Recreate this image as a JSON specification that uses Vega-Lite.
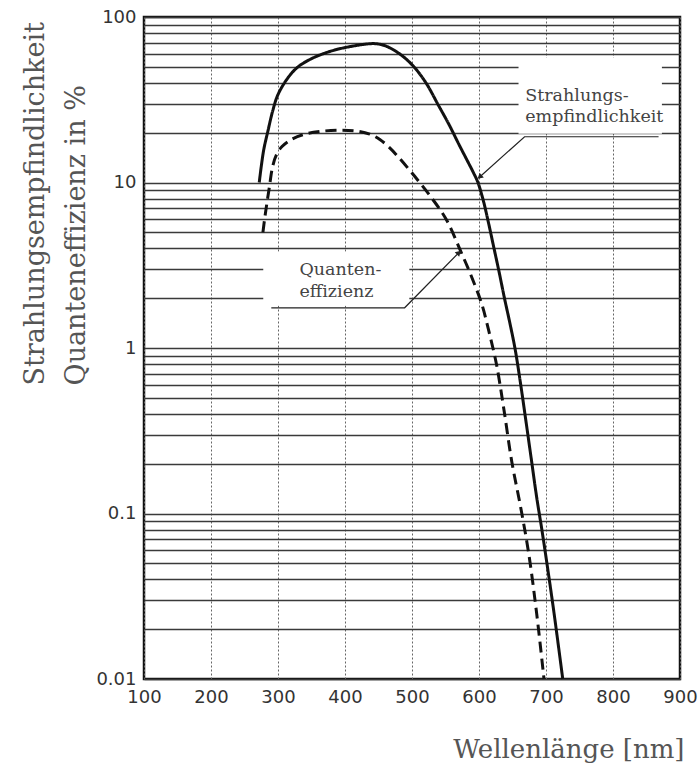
{
  "$schema": "https://vega.github.io/schema/vega-lite/v6.json",
  "width": 536,
  "height": 662,
  "autosize": "none",
  "padding": {"left": 144, "top": 17, "right": 18, "bottom": 85},
  "background": "white",
  "config": {
    "view": {"stroke": "#111", "strokeWidth": 2.5},
    "axis": {"titleFontWeight": "normal"}
  },
  "datasets": {
    "curves": [
      {"series": "Strahlungsempfindlichkeit", "wl": 272, "val": 10},
      {"series": "Strahlungsempfindlichkeit", "wl": 275, "val": 12.5},
      {"series": "Strahlungsempfindlichkeit", "wl": 279, "val": 16},
      {"series": "Strahlungsempfindlichkeit", "wl": 285, "val": 20.5},
      {"series": "Strahlungsempfindlichkeit", "wl": 292, "val": 27},
      {"series": "Strahlungsempfindlichkeit", "wl": 300, "val": 34},
      {"series": "Strahlungsempfindlichkeit", "wl": 315, "val": 43},
      {"series": "Strahlungsempfindlichkeit", "wl": 330, "val": 50},
      {"series": "Strahlungsempfindlichkeit", "wl": 350, "val": 56},
      {"series": "Strahlungsempfindlichkeit", "wl": 370, "val": 60.5},
      {"series": "Strahlungsempfindlichkeit", "wl": 390, "val": 64},
      {"series": "Strahlungsempfindlichkeit", "wl": 410, "val": 66.5},
      {"series": "Strahlungsempfindlichkeit", "wl": 430, "val": 68.5},
      {"series": "Strahlungsempfindlichkeit", "wl": 445, "val": 69},
      {"series": "Strahlungsempfindlichkeit", "wl": 460, "val": 67},
      {"series": "Strahlungsempfindlichkeit", "wl": 480, "val": 60.5},
      {"series": "Strahlungsempfindlichkeit", "wl": 500, "val": 51.5},
      {"series": "Strahlungsempfindlichkeit", "wl": 520, "val": 40.5},
      {"series": "Strahlungsempfindlichkeit", "wl": 540, "val": 29},
      {"series": "Strahlungsempfindlichkeit", "wl": 555, "val": 22.5},
      {"series": "Strahlungsempfindlichkeit", "wl": 570, "val": 17},
      {"series": "Strahlungsempfindlichkeit", "wl": 584, "val": 13.2},
      {"series": "Strahlungsempfindlichkeit", "wl": 592, "val": 11.4},
      {"series": "Strahlungsempfindlichkeit", "wl": 598, "val": 10.1},
      {"series": "Strahlungsempfindlichkeit", "wl": 606, "val": 7.9},
      {"series": "Strahlungsempfindlichkeit", "wl": 614, "val": 5.75},
      {"series": "Strahlungsempfindlichkeit", "wl": 622, "val": 4.07},
      {"series": "Strahlungsempfindlichkeit", "wl": 630, "val": 2.88},
      {"series": "Strahlungsempfindlichkeit", "wl": 638, "val": 2.0},
      {"series": "Strahlungsempfindlichkeit", "wl": 646, "val": 1.42},
      {"series": "Strahlungsempfindlichkeit", "wl": 654, "val": 0.98},
      {"series": "Strahlungsempfindlichkeit", "wl": 662, "val": 0.61},
      {"series": "Strahlungsempfindlichkeit", "wl": 670, "val": 0.363},
      {"series": "Strahlungsempfindlichkeit", "wl": 678, "val": 0.214},
      {"series": "Strahlungsempfindlichkeit", "wl": 686, "val": 0.126},
      {"series": "Strahlungsempfindlichkeit", "wl": 694, "val": 0.079},
      {"series": "Strahlungsempfindlichkeit", "wl": 702, "val": 0.048},
      {"series": "Strahlungsempfindlichkeit", "wl": 712, "val": 0.025},
      {"series": "Strahlungsempfindlichkeit", "wl": 725, "val": 0.01},
      {"series": "Quanteneffizienz", "wl": 277.5, "val": 5.0},
      {"series": "Quanteneffizienz", "wl": 280, "val": 6},
      {"series": "Quanteneffizienz", "wl": 283, "val": 7.3},
      {"series": "Quanteneffizienz", "wl": 287, "val": 9.3},
      {"series": "Quanteneffizienz", "wl": 292, "val": 12.5},
      {"series": "Quanteneffizienz", "wl": 298, "val": 14.8},
      {"series": "Quanteneffizienz", "wl": 306, "val": 16.5},
      {"series": "Quanteneffizienz", "wl": 320, "val": 18.2},
      {"series": "Quanteneffizienz", "wl": 340, "val": 19.6},
      {"series": "Quanteneffizienz", "wl": 365, "val": 20.4},
      {"series": "Quanteneffizienz", "wl": 395, "val": 20.7},
      {"series": "Quanteneffizienz", "wl": 420, "val": 20.4},
      {"series": "Quanteneffizienz", "wl": 437, "val": 19.6},
      {"series": "Quanteneffizienz", "wl": 452, "val": 18.2},
      {"series": "Quanteneffizienz", "wl": 466, "val": 16.3},
      {"series": "Quanteneffizienz", "wl": 480, "val": 14.2},
      {"series": "Quanteneffizienz", "wl": 504, "val": 10.9},
      {"series": "Quanteneffizienz", "wl": 529, "val": 8.1},
      {"series": "Quanteneffizienz", "wl": 552, "val": 5.9},
      {"series": "Quanteneffizienz", "wl": 572, "val": 3.9},
      {"series": "Quanteneffizienz", "wl": 588, "val": 2.75},
      {"series": "Quanteneffizienz", "wl": 604, "val": 1.85},
      {"series": "Quanteneffizienz", "wl": 615, "val": 1.25},
      {"series": "Quanteneffizienz", "wl": 626, "val": 0.8},
      {"series": "Quanteneffizienz", "wl": 637, "val": 0.43},
      {"series": "Quanteneffizienz", "wl": 649, "val": 0.205},
      {"series": "Quanteneffizienz", "wl": 662, "val": 0.11},
      {"series": "Quanteneffizienz", "wl": 674, "val": 0.058},
      {"series": "Quanteneffizienz", "wl": 686, "val": 0.025},
      {"series": "Quanteneffizienz", "wl": 697, "val": 0.01}
    ],
    "boxes": [
      {"box": "S", "x1": 659, "x2": 873, "y1": 19.7, "y2": 57},
      {"box": "Q", "x1": 278, "x2": 496, "y1": 1.8, "y2": 3.82}
    ],
    "leaders": [
      {"id": "S", "ord": 1, "wl": 868, "val": 18.9},
      {"id": "S", "ord": 2, "wl": 668, "val": 18.9},
      {"id": "S", "ord": 3, "wl": 601, "val": 10.8},
      {"id": "Q", "ord": 1, "wl": 290, "val": 1.75},
      {"id": "Q", "ord": 2, "wl": 489, "val": 1.75},
      {"id": "Q", "ord": 3, "wl": 570, "val": 3.77}
    ],
    "labels": [
      {"wl": 669, "val": 31.1, "text": "Strahlungs-"},
      {"wl": 669, "val": 23.3, "text": "empfindlichkeit"},
      {"wl": 332, "val": 2.78, "text": "Quanten-"},
      {"wl": 332, "val": 2.02, "text": "effizienz"}
    ]
  },
  "layer": [
    {
      "data": {"name": "boxes"},
      "mark": {"type": "rect", "fill": "white", "stroke": null},
      "encoding": {
        "x": {"field": "x1", "type": "quantitative", "scale": {"domain": [100, 900], "nice": false, "zero": false},
          "axis": {
            "title": "Wellenlänge [nm]",
            "values": [100, 200, 300, 400, 500, 600, 700, 800, 900],
            "grid": true, "gridColor": "#666", "gridDash": [2, 2], "gridWidth": 1,
            "ticks": false, "domain": false,
            "labelFont": "DejaVu Sans", "labelFontSize": 18, "labelColor": "#333",
            "labelPadding": 9, "labelFlush": false, "labelOverlap": false,
            "titleFont": "DejaVu Serif", "titleFontSize": 26, "titleColor": "#555",
            "titleX": 540, "titleY": 78, "titleAlign": "right", "titleBaseline": "alphabetic", "titleAnchor": "end"
          }},
        "x2": {"field": "x2"},
        "y": {"field": "y1", "type": "quantitative", "scale": {"type": "log", "domain": [0.01, 100], "nice": false},
          "axis": {
            "title": ["Strahlungsempfindlichkeit", "Quanteneffizienz in %"],
            "values": [0.01, 0.02, 0.03, 0.04, 0.05, 0.06, 0.07, 0.08, 0.09, 0.1, 0.2, 0.3, 0.4, 0.5, 0.6, 0.7, 0.8, 0.9, 1, 2, 3, 4, 5, 6, 7, 8, 9, 10, 20, 30, 40, 50, 60, 70, 80, 90, 100],
            "format": "~g",
            "labelExpr": "indexof([0.01, 0.1, 1, 10, 100], datum.value) >= 0 ? datum.label : ''",
            "grid": true, "gridColor": "#3a3a3a", "gridWidth": 1.5,
            "ticks": false, "domain": false,
            "labelFont": "DejaVu Sans", "labelFontSize": 18, "labelColor": "#333",
            "labelPadding": 8, "labelOverlap": false, "labelFlush": false, "labelBound": false,
            "titleFont": "DejaVu Serif", "titleFontSize": 27, "titleColor": "#555",
            "titleX": -101, "titleY": 368, "titleAlign": "left", "titleAngle": 270, "titleBaseline": "alphabetic", "titleLineHeight": 41
          }},
        "y2": {"field": "y2"}
      }
    },
    {
      "data": {"name": "curves"},
      "mark": {"type": "line", "color": "#111", "strokeWidth": 3, "interpolate": "catmull-rom"},
      "encoding": {
        "x": {"field": "wl", "type": "quantitative"},
        "y": {"field": "val", "type": "quantitative"},
        "detail": {"field": "series"},
        "strokeDash": {"field": "series", "type": "nominal", "scale": {"domain": ["Strahlungsempfindlichkeit", "Quanteneffizienz"], "range": [[1, 0], [11, 6]]}, "legend": null}
      }
    },
    {
      "data": {"name": "leaders"},
      "mark": {"type": "line", "color": "#222", "strokeWidth": 1.2},
      "encoding": {
        "x": {"field": "wl", "type": "quantitative"},
        "y": {"field": "val", "type": "quantitative"},
        "detail": {"field": "id"},
        "order": {"field": "ord"}
      }
    },
    {
      "data": {"name": "leaders"},
      "transform": [{"filter": "datum.id == 'S' && datum.ord == 3"}],
      "mark": {"type": "point", "shape": "triangle-up", "filled": true, "color": "#222", "size": 40, "angle": 228, "opacity": 1},
      "encoding": {
        "x": {"field": "wl", "type": "quantitative"},
        "y": {"field": "val", "type": "quantitative"}
      }
    },
    {
      "data": {"name": "leaders"},
      "transform": [{"filter": "datum.id == 'Q' && datum.ord == 3"}],
      "mark": {"type": "point", "shape": "triangle-up", "filled": true, "color": "#222", "size": 40, "angle": 45, "opacity": 1},
      "encoding": {
        "x": {"field": "wl", "type": "quantitative"},
        "y": {"field": "val", "type": "quantitative"}
      }
    },
    {
      "data": {"name": "labels"},
      "mark": {"type": "text", "font": "DejaVu Serif", "fontSize": 17.5, "color": "#444", "align": "left", "baseline": "alphabetic"},
      "encoding": {
        "x": {"field": "wl", "type": "quantitative"},
        "y": {"field": "val", "type": "quantitative"},
        "text": {"field": "text", "type": "nominal"}
      }
    }
  ]
}
